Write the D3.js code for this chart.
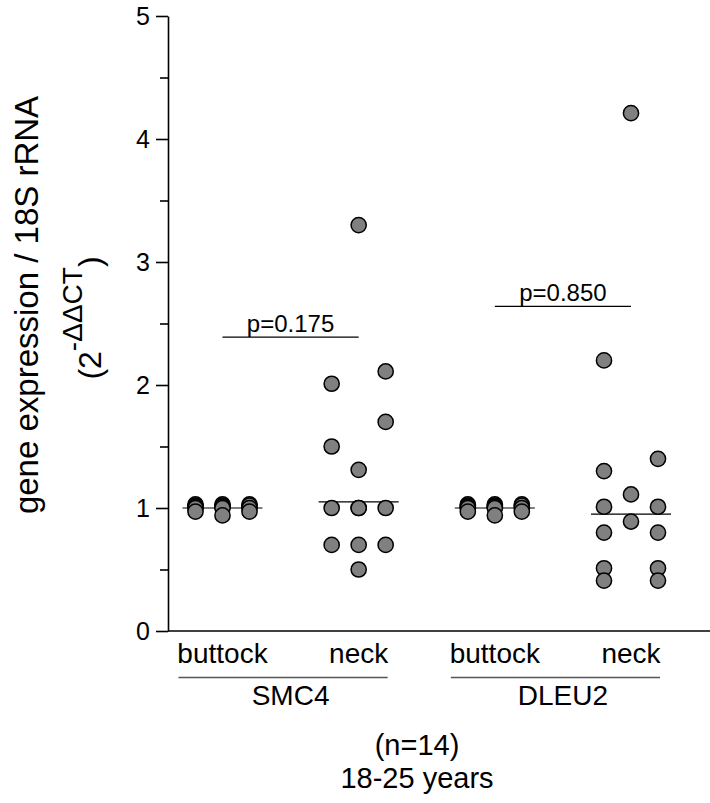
<!DOCTYPE html>
<html>
<head>
<meta charset="utf-8">
<script src="https://cdn.jsdelivr.net/npm/d3@7"></script>
<style>
  html, body { margin: 0; padding: 0; background: #fff; }
  svg { display: block; }
  text { font-family: "Liberation Sans", Arial, sans-serif; fill: #000; }
</style>
</head>
<body>
<svg id="chart" width="710" height="803"></svg>
<script>
// ---------------- data ----------------
const genes = ["SMC4", "DLEU2"];
const sites = ["buttock", "neck"];
const groups = ["SMC4|buttock", "SMC4|neck", "DLEU2|buttock", "DLEU2|neck"];

// values per group, with a horizontal dodge slot (-1 left, 0 centre, 1 right)
const smc4Buttock     = [1.03, 1.02, 1.01, 1.00, 0.97, 1.03, 1.02, 1.01, 1.00, 0.94, 1.03, 1.02, 1.00, 0.97];
const smc4ButtockSlot = [-1, -1, -1, -1, -1, 0, 0, 0, 0, 0, 1, 1, 1, 1];
const smc4Neck        = [3.30, 2.11, 2.01, 1.70, 1.50, 1.31, 1.00, 1.00, 1.00, 1.00, 0.70, 0.70, 0.70, 0.50];
const smc4NeckSlot    = [0, 1, -1, 1, -1, 0, -1, 0, 0, 1, -1, 0, 1, 0];
const dleu2Buttock     = [1.03, 1.02, 1.01, 1.00, 0.97, 1.03, 1.02, 1.01, 1.00, 0.94, 1.03, 1.02, 1.00, 0.97];
const dleu2ButtockSlot = [-1, -1, -1, -1, -1, 0, 0, 0, 0, 0, 1, 1, 1, 1];
const dleu2Neck        = [4.21, 2.20, 1.40, 1.30, 1.11, 1.01, 1.01, 0.89, 0.80, 0.80, 0.51, 0.51, 0.41, 0.41];
const dleu2NeckSlot    = [0, -1, 1, -1, 0, -1, 1, 0, -1, 1, -1, 1, -1, 1];

const medians = [1.00, 1.05, 1.00, 0.95];
const pLabels = ["p=0.175", "p=0.850"];
const pBarLevels = [2.39, 2.64];

const yMajorTicks = [0, 1, 2, 3, 4, 5];
const yMinorTicks = [0.5, 1.5, 2.5, 3.5, 4.5];

const footer = ["(n=14)", "18-25 years"];

// ---------------- layout ----------------
const svg = d3.select("#chart");
const W = 710, H = 803;
const axisX = 168;

const y = d3.scaleLinear().domain([0, 5]).range([631, 16]);
const x = d3.scalePoint().domain(groups).range([222.5, 631]);
const slotStep = 27;

const series = [
  { g: groups[0], v: smc4Buttock, s: smc4ButtockSlot },
  { g: groups[1], v: smc4Neck, s: smc4NeckSlot },
  { g: groups[2], v: dleu2Buttock, s: dleu2ButtockSlot },
  { g: groups[3], v: dleu2Neck, s: dleu2NeckSlot }
];

// y axis (major)
const yAxis = d3.axisLeft(y).tickValues(yMajorTicks).tickSize(12).tickSizeOuter(0).tickPadding(6)
  .tickFormat(d3.format("d"));
const gy = svg.append("g").attr("transform", `translate(${axisX},0)`).call(yAxis);
gy.select(".domain").attr("stroke", "#000").attr("stroke-width", 1.6);
gy.selectAll(".tick line").attr("stroke", "#000").attr("stroke-width", 1.6);
gy.selectAll(".tick text").attr("font-size", 25).attr("font-family", "Liberation Sans, Arial, sans-serif").attr("fill", "#000");

// y axis (minor)
const yMinor = d3.axisLeft(y).tickValues(yMinorTicks).tickSize(8).tickFormat("");
const gm = svg.append("g").attr("transform", `translate(${axisX},0)`).call(yMinor);
gm.select(".domain").remove();
gm.selectAll(".tick line").attr("stroke", "#000").attr("stroke-width", 1.6);

// x axis baseline
svg.append("line")
  .attr("x1", axisX).attr("x2", W)
  .attr("y1", y(0)).attr("y2", y(0))
  .attr("stroke", "#000").attr("stroke-width", 1.6);

// median lines
svg.append("g").selectAll("line").data(groups).join("line")
  .attr("x1", d => x(d) - 40).attr("x2", d => x(d) + 40)
  .attr("y1", (d, i) => y(medians[i])).attr("y2", (d, i) => y(medians[i]))
  .attr("stroke", "#000").attr("stroke-width", 1.2);

// points
const pts = [];
series.forEach(sr => sr.v.forEach((v, i) => pts.push({ g: sr.g, v, s: sr.s[i] })));
pts.sort((a, b) => b.v - a.v);
svg.append("g").selectAll("circle").data(pts).join("circle")
  .attr("cx", d => x(d.g) + d.s * slotStep)
  .attr("cy", d => y(d.v))
  .attr("r", 7.6)
  .attr("fill", "#808080")
  .attr("stroke", "#000")
  .attr("stroke-width", 1.5);

// p-value bars
genes.forEach((gname, i) => {
  const x1 = x(gname + "|buttock"), x2 = x(gname + "|neck");
  svg.append("line")
    .attr("x1", x1).attr("x2", x2)
    .attr("y1", y(pBarLevels[i])).attr("y2", y(pBarLevels[i]))
    .attr("stroke", "#000").attr("stroke-width", 1.2);
  svg.append("text")
    .attr("x", (x1 + x2) / 2).attr("y", y(pBarLevels[i]) - 5)
    .attr("text-anchor", "middle").attr("font-size", 24)
    .text(pLabels[i]);
});

// category labels
svg.append("g").selectAll("text").data(groups).join("text")
  .attr("x", d => x(d)).attr("y", 663)
  .attr("text-anchor", "middle").attr("font-size", 28)
  .text(d => d.split("|")[1]);

// gene brackets
genes.forEach(gname => {
  const x1 = x(gname + "|buttock"), x2 = x(gname + "|neck");
  svg.append("line")
    .attr("x1", x1 - 44).attr("x2", x2 + 29)
    .attr("y1", 677.5).attr("y2", 677.5)
    .attr("stroke", "#555").attr("stroke-width", 1.5);
  svg.append("text")
    .attr("x", (x1 + x2) / 2).attr("y", 705)
    .attr("text-anchor", "middle").attr("font-size", 28)
    .text(gname);
});

// footer
svg.append("g").selectAll("text").data(footer).join("text")
  .attr("x", 417).attr("y", (d, i) => 755 + i * 33)
  .attr("text-anchor", "middle").attr("font-size", 29)
  .text(d => d);

// y title
svg.append("text")
  .attr("transform", "translate(38,305) rotate(-90)")
  .attr("text-anchor", "middle").attr("font-size", 33)
  .text("gene expression / 18S rRNA");

const t2 = svg.append("text")
  .attr("transform", "translate(101,318) rotate(-90)")
  .attr("text-anchor", "middle").attr("font-size", 32);
t2.append("tspan").text("(2");
t2.append("tspan").attr("font-size", 28).attr("dy", -19).text("-\u0394\u0394CT");
t2.append("tspan").attr("dy", 19).text(")");
</script>
</body>
</html>
